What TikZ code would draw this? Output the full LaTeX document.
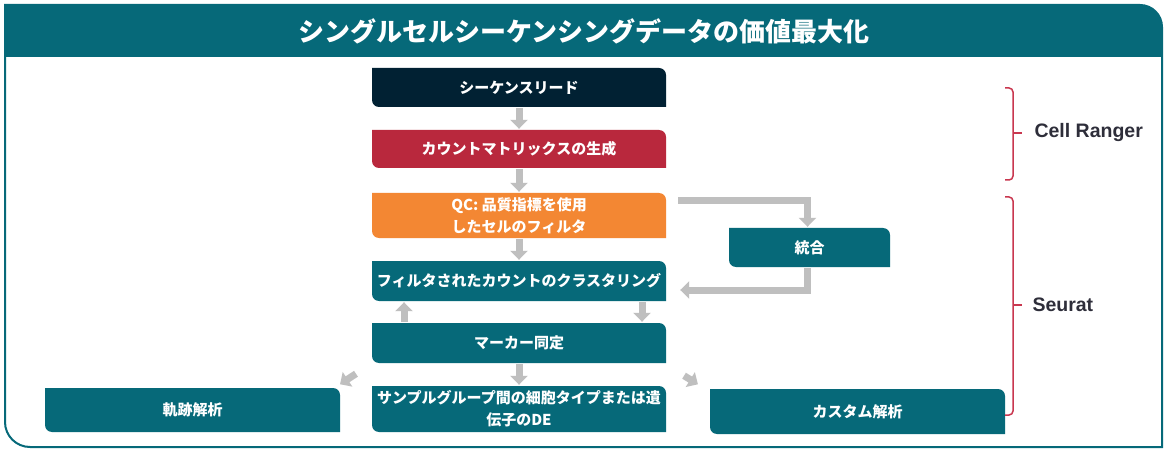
\documentclass[tikz,border=0pt]{standalone}
\usepackage{fontspec}
\setmainfont{Noto Sans CJK JP}
\newfontfamily\latinfont{Liberation Sans}
\usetikzlibrary{arrows.meta, positioning, calc}
\definecolor{seqNavy}{HTML}{012133}
\definecolor{countRed}{HTML}{B9283D}
\definecolor{qcOrange}{HTML}{F38733}
\definecolor{stepTeal}{HTML}{066979}
\definecolor{arrowGray}{HTML}{BFBFBF}
\definecolor{braceRed}{HTML}{C9374F}
\definecolor{labelDark}{HTML}{2E2E3A}
\tikzset{
  stepcard/.style={minimum width=294pt, minimum height=40pt, inner sep=0pt, align=center, text=white,
    font=\fontsize{15}{22}\selectfont\bfseries,
    path picture={\fill[#1] (path picture bounding box.north west)
      -- ([xshift=-7pt]path picture bounding box.north east) arc[start angle=90, end angle=0, radius=7pt]
      -- (path picture bounding box.south east)
      -- ([xshift=7pt]path picture bounding box.south west) arc[start angle=270, end angle=180, radius=7pt]
      -- cycle;}},
  flowarr/.style={-{Triangle[length=9pt, width=17pt]}, arrowGray, line width=7pt, shorten <=1pt, shorten >=1pt},
  toolbrace/.style={braceRed, line width=1.5pt, rounded corners=4pt},
  toollabel/.style={anchor=west, font=\latinfont\fontsize{19.5}{21}\selectfont\bfseries, text=labelDark},
}
\begin{document}
\begin{tikzpicture}[x=1pt, y=1pt]
  \useasboundingbox (0,0) rectangle (1168,456);
  % frame and title band
  \draw[stepTeal, line width=2pt, fill=white] (5,451) -- (1140,451) arc[start angle=90, end angle=0, radius=22pt]
    -- (1162,9) -- (30,9) arc[start angle=270, end angle=180, radius=25pt] -- cycle;
  \fill[stepTeal] (5,451) -- (1140,451) arc[start angle=90, end angle=0, radius=22pt] -- (1162,399) -- (5,399) -- cycle;
  \node[font=\fontsize{26}{28}\selectfont\bfseries, text=white] (title) at (584,425) {シングルセルシーケンシングデータの価値最大化};

  % main steps
  \node[stepcard=seqNavy, minimum height=39pt] (reads) at (519,368.5) {シーケンスリード};
  \node[stepcard=countRed, minimum height=38pt] (countmat) at (519,307) {カウントマトリックスの生成};
  \node[stepcard=qcOrange, minimum height=45pt] (qc) at (519,240.5) {QC: 品質指標を使用\\したセルのフィルタ};
  \node[stepcard=stepTeal] (cluster) at (519,175) {フィルタされたカウントのクラスタリング};
  \node[stepcard=stepTeal] (marker) at (519,113) {マーカー同定};
  \node[stepcard=stepTeal, minimum height=46pt] (diffexp) at (519,47) {サンプルグループ間の細胞タイプまたは遺\\伝子のDE};
  \node[stepcard=stepTeal, minimum width=161pt, minimum height=39pt] (integ) at (809.5,208.5) {統合};
  \node[stepcard=stepTeal, minimum width=295pt, minimum height=44pt] (traj) at (192.5,46) {軌跡解析};
  \node[stepcard=stepTeal, minimum width=295pt, minimum height=45pt] (custom) at (857.5,44.5) {カスタム解析};

  % arrows
  \draw[flowarr] (reads.south) -- (countmat.north);
  \draw[flowarr] (countmat.south) -- (qc.north);
  \draw[flowarr] (qc.south) -- (cluster.north);
  \draw[flowarr] (marker.south) -- (diffexp.north);
  \draw[flowarr] ([xshift=-115pt]marker.north) -- ([xshift=-115pt]cluster.south);
  \draw[flowarr] ([xshift=123pt]cluster.south) -- ([xshift=123pt]marker.north);
  \draw[flowarr] ([shift={(11pt,-8pt)}]qc.north east) -| ([xshift=-2pt]integ.north);
  \draw[flowarr] ([xshift=-2pt]integ.south) |- ([shift={(13pt,-9pt)}]cluster.east);
  \draw[flowarr] ([shift={(-15pt,-10pt)}]marker.south west) -- ([shift={(-1pt,3pt)}]traj.north east);
  \draw[flowarr] ([shift={(17pt,-12pt)}]marker.south east) -- ([shift={(-11pt,4pt)}]custom.north west);

  % tool brackets
  \coordinate (crtip) at (1022,323);
  \coordinate (srtip) at (1022,151);
  \draw[toolbrace] (1005,368) -- (1013,368) -- (1013,323) -- (1013,276) -- (1005,276);
  \draw[toolbrace, sharp corners] (1013,323) -- (crtip);
  \draw[toolbrace] (1005,259) -- (1013,259) -- (1013,151) -- (1013,41) -- (1005,41);
  \draw[toolbrace, sharp corners] (1013,151) -- (srtip);
  \node[toollabel] (cellranger) at (1031,323) {Cell Ranger};
  \node[toollabel] (seurat) at (1029,151) {Seurat};
\end{tikzpicture}
\end{document}
